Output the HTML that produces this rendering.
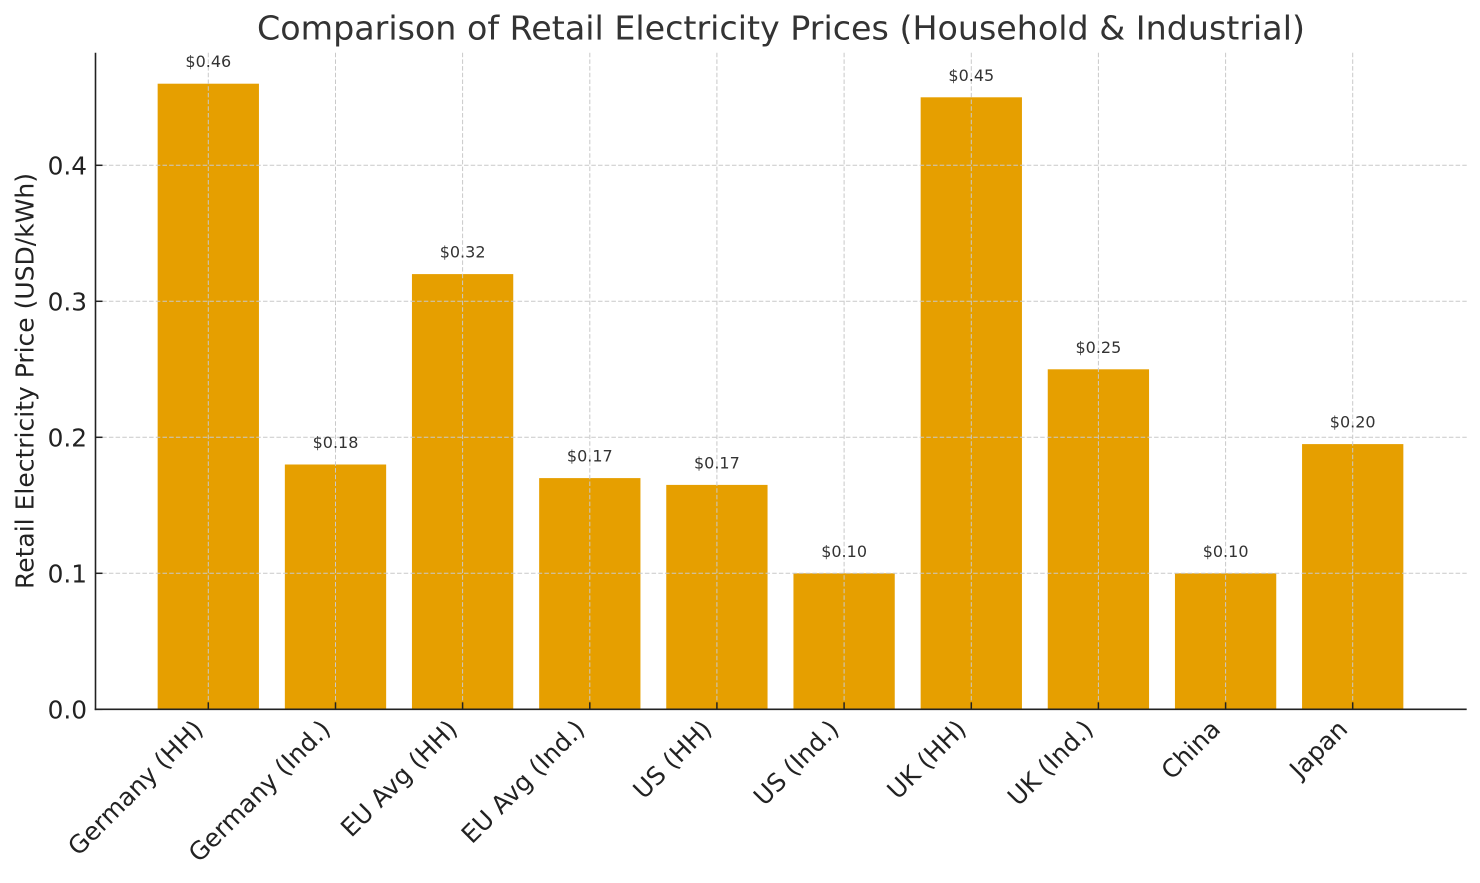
<!DOCTYPE html>
<html>
<head>
<meta charset="utf-8">
<style>
  html, body { margin: 0; padding: 0; background: #ffffff; }
  svg { display: block; }
  text { font-family: "DejaVu Sans", "Liberation Sans", sans-serif; }
</style>
</head>
<body>
<svg width="1480" height="883" viewBox="0 0 1480 883" xmlns="http://www.w3.org/2000/svg">
  <rect x="0" y="0" width="1480" height="883" fill="#ffffff"/>

  <!-- Title -->
  <text x="781" y="39.5" text-anchor="middle" font-size="33.3" fill="#333333">Comparison of Retail Electricity Prices (Household &amp; Industrial)</text>

  <!-- Bars -->
  <g fill="#E69F00">
    <rect x="157.65" y="83.7" width="101.3" height="625.6"/>
    <rect x="284.85" y="464.5" width="101.3" height="244.8"/>
    <rect x="411.95" y="274.1" width="101.3" height="435.2"/>
    <rect x="539.15" y="478.1" width="101.3" height="231.2"/>
    <rect x="666.25" y="484.9" width="101.3" height="224.4"/>
    <rect x="793.45" y="573.3" width="101.3" height="136.0"/>
    <rect x="920.65" y="97.3" width="101.3" height="612.0"/>
    <rect x="1047.75" y="369.3" width="101.3" height="340.0"/>
    <rect x="1174.95" y="573.3" width="101.3" height="136.0"/>
    <rect x="1302.05" y="444.1" width="101.3" height="265.2"/>
  </g>

  <!-- Grid lines (over bars) -->
  <g stroke="#c9c9c9" stroke-width="1" stroke-dasharray="4.5 2.2" fill="none">
    <line x1="95.5" y1="573.3" x2="1466.7" y2="573.3"/>
    <line x1="95.5" y1="437.3" x2="1466.7" y2="437.3"/>
    <line x1="95.5" y1="301.3" x2="1466.7" y2="301.3"/>
    <line x1="95.5" y1="165.3" x2="1466.7" y2="165.3"/>
    <line x1="208.3" y1="52.7" x2="208.3" y2="709.3"/>
    <line x1="335.5" y1="52.7" x2="335.5" y2="709.3"/>
    <line x1="462.6" y1="52.7" x2="462.6" y2="709.3"/>
    <line x1="589.8" y1="52.7" x2="589.8" y2="709.3"/>
    <line x1="716.9" y1="52.7" x2="716.9" y2="709.3"/>
    <line x1="844.1" y1="52.7" x2="844.1" y2="709.3"/>
    <line x1="971.3" y1="52.7" x2="971.3" y2="709.3"/>
    <line x1="1098.4" y1="52.7" x2="1098.4" y2="709.3"/>
    <line x1="1225.6" y1="52.7" x2="1225.6" y2="709.3"/>
    <line x1="1352.7" y1="52.7" x2="1352.7" y2="709.3"/>
  </g>

  <!-- Value labels -->
  <g font-size="16" fill="#333333" text-anchor="middle">
    <text x="208.3" y="67.2">$0.46</text>
    <text x="335.5" y="448.0">$0.18</text>
    <text x="462.6" y="257.6">$0.32</text>
    <text x="589.8" y="461.6">$0.17</text>
    <text x="716.9" y="468.4">$0.17</text>
    <text x="844.1" y="556.8">$0.10</text>
    <text x="971.3" y="80.8">$0.45</text>
    <text x="1098.4" y="352.8">$0.25</text>
    <text x="1225.6" y="556.8">$0.10</text>
    <text x="1352.7" y="427.6">$0.20</text>
  </g>

  <!-- Spines -->
  <g stroke="#222222" stroke-width="1.6" fill="none">
    <line x1="95.5" y1="52.7" x2="95.5" y2="710.1"/>
    <line x1="94.7" y1="709.3" x2="1466.7" y2="709.3"/>
  </g>

  <!-- Ticks (inward) -->
  <g stroke="#222222" stroke-width="1.5">
    <line x1="208.3" y1="709.3" x2="208.3" y2="702.3"/>
    <line x1="335.5" y1="709.3" x2="335.5" y2="702.3"/>
    <line x1="462.6" y1="709.3" x2="462.6" y2="702.3"/>
    <line x1="589.8" y1="709.3" x2="589.8" y2="702.3"/>
    <line x1="716.9" y1="709.3" x2="716.9" y2="702.3"/>
    <line x1="844.1" y1="709.3" x2="844.1" y2="702.3"/>
    <line x1="971.3" y1="709.3" x2="971.3" y2="702.3"/>
    <line x1="1098.4" y1="709.3" x2="1098.4" y2="702.3"/>
    <line x1="1225.6" y1="709.3" x2="1225.6" y2="702.3"/>
    <line x1="1352.7" y1="709.3" x2="1352.7" y2="702.3"/>
    <line x1="95.5" y1="709.3" x2="102.5" y2="709.3"/>
    <line x1="95.5" y1="573.3" x2="102.5" y2="573.3"/>
    <line x1="95.5" y1="437.3" x2="102.5" y2="437.3"/>
    <line x1="95.5" y1="301.3" x2="102.5" y2="301.3"/>
    <line x1="95.5" y1="165.3" x2="102.5" y2="165.3"/>
  </g>

  <!-- Y tick labels -->
  <g font-size="24.8" fill="#222222" text-anchor="end">
    <text x="87" y="718.3">0.0</text>
    <text x="87" y="582.3">0.1</text>
    <text x="87" y="446.3">0.2</text>
    <text x="87" y="310.3">0.3</text>
    <text x="87" y="174.3">0.4</text>
  </g>

  <!-- Y axis label -->
  <text transform="translate(33.3,381) rotate(-90)" text-anchor="middle" font-size="25" fill="#222222">Retail Electricity Price (USD/kWh)</text>

  <!-- X tick labels (rotated 45) -->
  <g font-size="24.8" fill="#222222" text-anchor="end">
    <text transform="translate(204.6,730.6) rotate(-45)">Germany (HH)</text>
    <text transform="translate(331.8,730.6) rotate(-45)">Germany (Ind.)</text>
    <text transform="translate(458.9,730.6) rotate(-45)">EU Avg (HH)</text>
    <text transform="translate(586.1,730.6) rotate(-45)">EU Avg (Ind.)</text>
    <text transform="translate(713.2,730.6) rotate(-45)">US (HH)</text>
    <text transform="translate(840.4,730.6) rotate(-45)">US (Ind.)</text>
    <text transform="translate(967.6,730.6) rotate(-45)">UK (HH)</text>
    <text transform="translate(1094.7,730.6) rotate(-45)">UK (Ind.)</text>
    <text transform="translate(1221.9,730.6) rotate(-45)">China</text>
    <text transform="translate(1349.0,730.6) rotate(-45)">Japan</text>
  </g>
</svg>
</body>
</html>
